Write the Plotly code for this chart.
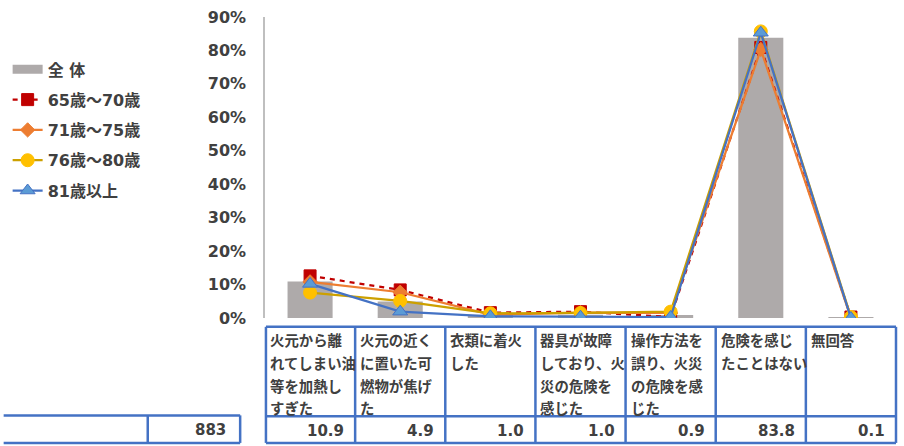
import plotly.graph_objects as go

# ---- data ----
categories = [
    "火元から離<br>れてしまい油<br>等を加熱し<br>すぎた",
    "火元の近く<br>に置いた可<br>燃物が焦げ<br>た",
    "衣類に着火<br>した",
    "器具が故障<br>しており、火<br>災の危険を<br>感じた",
    "操作方法を<br>誤り、火災<br>の危険を感<br>じた",
    "危険を感じ<br>たことはない",
    "無回答",
]
total_values = [10.9, 4.9, 1.0, 1.0, 0.9, 83.8, 0.1]
total_n = 883
age_65_70 = [12.6, 8.4, 1.6, 1.9, 0.3, 80.9, 0.3]
age_71_75 = [10.8, 7.7, 1.0, 1.6, 1.5, 80.3, 0.0]
age_76_80 = [7.6, 5.1, 1.4, 1.5, 1.9, 85.7, 0.3]
age_81_up = [10.2, 1.9, 0.5, 0.4, 0.3, 85.3, 0.0]
y_ticks = [0, 10, 20, 30, 40, 50, 60, 70, 80, 90]

W, H = 904, 446
L, R, T, B = 261, 8, 12, 128
PW, PH = W - L - R, H - T - B

def px_x(px):
    return (px - L) / PW

def px_y(py):
    return (H - B - py) / PH

FONT = "DejaVu Sans, Noto Sans CJK JP, sans-serif"
CJK = "Noto Sans CJK JP, sans-serif"
TXT = "#404040"
BLUE_TBL = "#4472C4"

idx = list(range(len(categories)))
fig = go.Figure()
fig.add_trace(go.Bar(x=idx, y=total_values, name="全 体", width=0.5,
                     marker=dict(color="#AEAAAA", line=dict(width=0)),
                     showlegend=False, legendgroup="g0"))
# legend entry for bar (wide rectangle style)
fig.add_trace(go.Scatter(x=[None], y=[None], mode="lines", name="全 体",
                         line=dict(color="#AEAAAA", width=9), legendgroup="g0"))

series = [
    ("65歳～70歳", age_65_70, "#C00000", "5px,5px", "square", 12, "#C00000", "#C00000"),
    ("71歳～75歳", age_71_75, "#ED7D31", "solid", "diamond", 11, "#ED7D31", "#ED7D31"),
    ("76歳～80歳", age_76_80, "#CCA000", "solid", "circle", 13, "#FFC000", "#FFC000"),
    ("81歳以上", age_81_up, "#4472C4", "solid", "triangle-up", 13, "#5B9BD5", "#4472C4"),
]
for k, (nm, vals, lc, dash, sym, ms, mc, mlc) in enumerate(series):
    fig.add_trace(go.Scatter(
        x=idx, y=vals, name=nm, mode="lines+markers", legendgroup=f"g{k+1}",
        line=dict(color=lc, width=2.25, dash=dash),
        marker=dict(symbol=sym, size=ms, color=mc, line=dict(color=mlc, width=1)),
    ))

shapes = []
def bx(i):
    return px_x(L) + (i) / len(categories)

top_y, mid_y, bot_y = px_y(327), px_y(418), px_y(445)
line_style = dict(color=BLUE_TBL, width=2.5)
# table horizontal lines
for yy in (top_y, mid_y, bot_y):
    shapes.append(dict(type="line", xref="paper", yref="paper", x0=bx(0) + 0.0015, x1=bx(7),
                       y0=yy, y1=yy, line=line_style))
for i in range(len(categories) + 1):
    shapes.append(dict(type="line", xref="paper", yref="paper", x0=bx(i) + (0.0015 if i == 0 else 0),
                       x1=bx(i) + (0.0015 if i == 0 else 0),
                       y0=top_y, y1=bot_y, line=line_style))
# left total cell
lt_y = px_y(417)
shapes.append(dict(type="line", xref="paper", yref="paper", x0=px_x(-2), x1=px_x(236),
                   y0=lt_y, y1=lt_y, line=line_style))
shapes.append(dict(type="line", xref="paper", yref="paper", x0=px_x(-2), x1=px_x(236),
                   y0=bot_y, y1=bot_y, line=line_style))
for xx in (143, 236):
    shapes.append(dict(type="line", xref="paper", yref="paper", x0=px_x(xx), x1=px_x(xx),
                       y0=lt_y, y1=bot_y, line=line_style))

annotations = []
for i, cat in enumerate(categories):
    for k, part in enumerate(cat.split("<br>")):
        annotations.append(dict(
            xref="paper", yref="paper", x=bx(i), y=top_y, xanchor="left", yanchor="middle",
            xshift=3, yshift=-(13 + 22.7 * k), text=part, showarrow=False,
            font=dict(family=CJK, size=14.4, color=TXT, weight="bold")))
    annotations.append(dict(
        xref="paper", yref="paper", x=bx(i + 1), y=(mid_y + bot_y) / 2, xanchor="right",
        yanchor="middle", xshift=-9, yshift=-1, text=f"{total_values[i]:.1f}", showarrow=False,
        font=dict(family=FONT, size=15, color=TXT, weight="bold")))
annotations.append(dict(
    xref="paper", yref="paper", x=px_x(236), y=(lt_y + bot_y) / 2, xanchor="right",
    yanchor="middle", xshift=-12, yshift=-1, text=str(total_n), showarrow=False,
    font=dict(family=FONT, size=15, color=TXT, weight="bold")))

fig.update_layout(
    width=W, height=H,
    margin=dict(l=L, r=R, t=T, b=B),
    paper_bgcolor="white", plot_bgcolor="white",
    bargap=0.5,
    font=dict(family=FONT, color=TXT, size=15, weight="bold"),
    xaxis=dict(range=[-0.5, 6.5], showticklabels=False, showgrid=False, zeroline=False,
               showline=False, ticks=""),
    yaxis=dict(range=[0, 90], tickvals=y_ticks, ticktext=[f"{v}%" for v in y_ticks],
               showgrid=False, zeroline=False, showline=True, linecolor="#BFBFBF", linewidth=1.5,
               ticks="", ticklabelstandoff=14,
               tickfont=dict(family=FONT, size=16, color=TXT, weight="bold")),
    legend=dict(x=px_x(2), y=px_y(48), xanchor="left", yanchor="top",
                tracegroupgap=6.5, traceorder="grouped",
                font=dict(family=FONT, size=16, color=TXT, weight="bold"),
                bgcolor="rgba(0,0,0,0)"),
    shapes=shapes,
    annotations=annotations,
)
fig.write_html("out.html", config={"displayModeBar": False},
               post_script="document.body.style.margin='0';document.body.style.overflow='hidden';")
